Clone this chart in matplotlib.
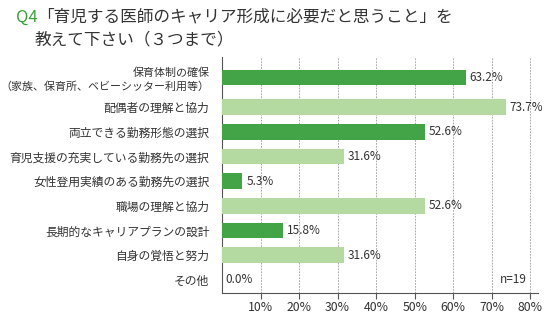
import numpy as np
import matplotlib
matplotlib.use("Agg")
import matplotlib.pyplot as plt

plt.rcParams["font.family"] = ["Noto Sans CJK JP", "DejaVu Sans"]

# --- data (top to bottom as shown) ---
categories = [
    "保育体制の確保\n（家族、保育所、ベビーシッター利用等）",
    "配偶者の理解と協力",
    "両立できる勤務形態の選択",
    "育児支援の充実している勤務先の選択",
    "女性登用実績のある勤務先の選択",
    "職場の理解と協力",
    "長期的なキャリアプランの設計",
    "自身の覚悟と努力",
    "その他",
]
values = [63.2, 73.7, 52.6, 31.6, 5.3, 52.6, 15.8, 31.6, 0.0]
x_ticks = [10, 20, 30, 40, 50, 60, 70, 80]
n_label = "n=19"

DARK = "#43a347"
LIGHT = "#b4daa2"
TEXT = "#333333"
GRID = "#9a9a9a"

fig = plt.figure(figsize=(5.5, 3.22), dpi=100)
fig.patch.set_facecolor("white")
ax = fig.add_axes([222 / 550, 29 / 322, 316 / 550, 236 / 322])

n = len(categories)
ypos = np.arange(n)[::-1].astype(float)
ypos[0] += 0.2  # two-line label gets a little extra room

colors = [DARK if i % 2 == 0 else LIGHT for i in range(n)]
ax.barh(ypos, values, height=0.63, color=colors, edgecolor="none", zorder=3)

for y, v in zip(ypos, values):
    ax.text(v + 1.0, y, f"{v:.1f}%", va="center", ha="left",
            fontsize=8.5, color=TEXT, zorder=4)

ax.set_yticks(ypos)
ax.set_yticklabels(categories, fontsize=8.5, color=TEXT)
first = ax.get_yticklabels()[0]
first.set_fontsize(7.9)
first.set_linespacing(1.3)
ax.tick_params(axis="y", length=0, pad=9)

ax.set_xticks(x_ticks)
ax.set_xticklabels([f"{t}%" for t in x_ticks], fontsize=8.8, color=TEXT)
ax.tick_params(axis="x", length=4, width=0.8, color="#555555", pad=2)

ax.set_xlim(0, 82)
ax.set_ylim(-0.53, ypos[0] + 0.83)

for t in x_ticks:
    ax.axvline(t, color=GRID, linewidth=0.6, linestyle=(0, (2, 1.5)), zorder=1)

for side in ("top", "right"):
    ax.spines[side].set_visible(False)
for side in ("left", "bottom"):
    ax.spines[side].set_color("#555555")
    ax.spines[side].set_linewidth(0.8)

ax.text(79, 0, n_label, ha="right", va="center", fontsize=8.5, color=TEXT)

# --- title ---
fig.canvas.draw()
renderer = fig.canvas.get_renderer()
q = fig.text(16 / 550, 1 - 17 / 322, "Q4", color="#3aa03a", fontsize=12,
             ha="left", va="center")
bb = q.get_window_extent(renderer)
fig.text(bb.x1 / fig.bbox.width, 1 - 17 / 322,
         "「育児する医師のキャリア形成に必要だと思うこと」を",
         color=TEXT, fontsize=12, ha="left", va="center")
fig.text(35 / 550, 1 - 40 / 322, "教えて下さい（３つまで）",
         color=TEXT, fontsize=12, ha="left", va="center")

fig.savefig("out.png", dpi=100, facecolor="white")
